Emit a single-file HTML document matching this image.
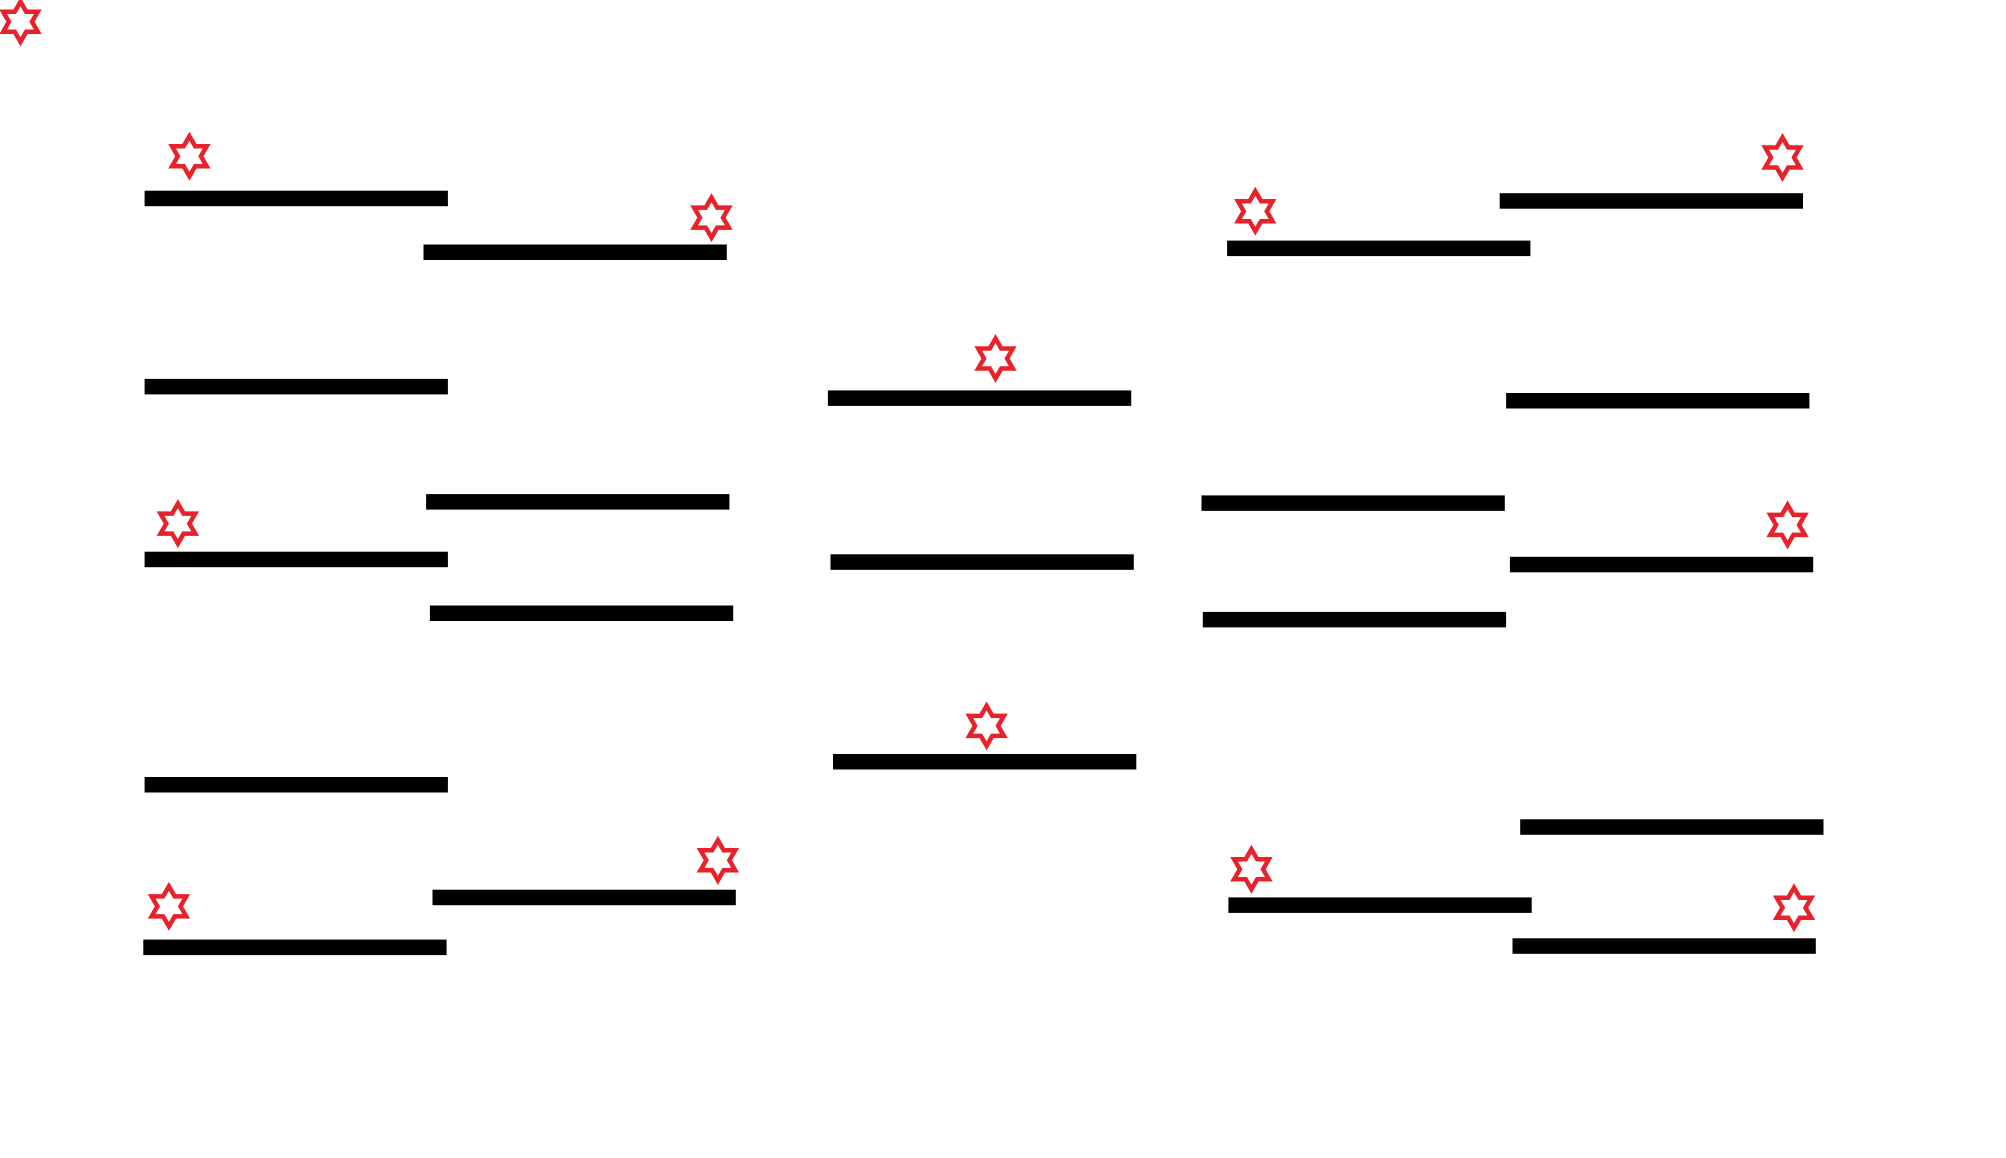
<!DOCTYPE html>
<html>
<head>
<meta charset="utf-8">
<style>
  html,body{margin:0;padding:0;background:#fff;}
  svg{display:block;}
</style>
</head>
<body>
<svg id="chart" width="2006" height="1158" viewBox="0 0 2006 1158" xmlns="http://www.w3.org/2000/svg">
  <rect x="0" y="0" width="2006" height="1158" fill="#ffffff"/>
  <g id="bars"></g>
  <g id="stars"></g>
</svg>
<script>
// data (chart units)
var barStarts = [113,331,113,333,113,336,113,338,112,647,649,651,1172,959,1177,939,1180,940,1188,960,1182];
var barLevels = [155,197,302,392,437,479,613,701,740,311,439,595,157,194,313,393,441,484,646,707,739];
var barLength = 237;
var starX = [16,148,556,778,139,771,561,132,981,1393,1397,978,1402];
var starY = [17,122,170,280,409,567,672,708,165,123,410,679,709];

function xScale(v){ return v * 2006 / 1552 * 0.99; }
function yScale(v){ return v * 1158 / 900 * 0.995; }

var NS = "http://www.w3.org/2000/svg";
var barsG = document.getElementById('bars');
var starsG = document.getElementById('stars');
var thick = 15.5;

for (var i = 0; i < barStarts.length; i++) {
  var r = document.createElementNS(NS, 'rect');
  var x0 = xScale(barStarts[i]);
  var x1 = xScale(barStarts[i] + barLength);
  r.setAttribute('x', x0.toFixed(1));
  r.setAttribute('y', (yScale(barLevels[i]) - thick / 2).toFixed(1));
  r.setAttribute('width', (x1 - x0).toFixed(1));
  r.setAttribute('height', thick);
  r.setAttribute('fill', '#000');
  
  
  barsG.appendChild(r);
}

function starPath(cx, cy, R) {
  var rIn = R / Math.sqrt(3);
  var pts = [];
  for (var k = 0; k < 12; k++) {
    var ang = -Math.PI / 2 + k * Math.PI / 6;
    var rad = (k % 2 === 0) ? R : rIn;
    pts.push((cx + rad * Math.cos(ang)).toFixed(1) + ',' + (cy + rad * Math.sin(ang)).toFixed(1));
  }
  return 'M' + pts.join('L') + 'Z';
}

for (var j = 0; j < starX.length; j++) {
  var p = document.createElementNS(NS, 'path');
  p.setAttribute('d', starPath(xScale(starX[j]), yScale(starY[j]), 20));
  p.setAttribute('fill', 'none');
  p.setAttribute('stroke', '#e8212a');
  p.setAttribute('stroke-width', '4.5');
  p.setAttribute('stroke-linejoin', 'miter');
  
  
  starsG.appendChild(p);
}
</script>
</body>
</html>
